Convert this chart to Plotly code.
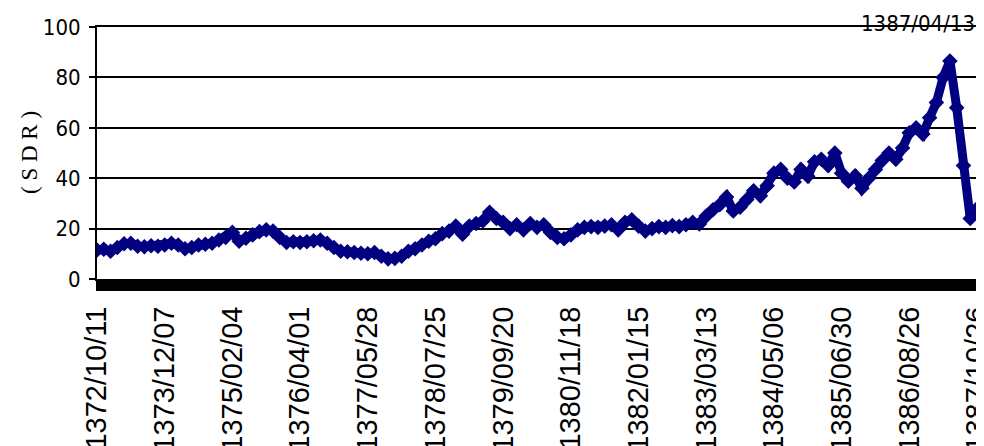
import plotly.graph_objects as go

# tick labels shown on the category axis (every 10th observation)
tick_labels = ["1372/10/11", "1373/12/07", "1375/02/04", "1376/04/01", "1377/05/28",
               "1378/07/25", "1379/09/20", "1380/11/18", "1382/01/15", "1383/03/13",
               "1384/05/06", "1385/06/30", "1386/08/26", "1387/10/26"]

values = [11.5, 11.8, 11.0, 12.5, 14.0, 14.2, 13.0, 12.8, 13.2, 13.0,
          13.5, 14.2, 13.5, 12.0, 12.5, 13.5, 13.8, 14.2, 15.5, 16.5,
          18.5, 15.0, 16.2, 17.5, 18.8, 19.5, 19.0, 16.5, 14.5, 14.8,
          14.5, 14.8, 15.2, 15.5, 14.2, 12.5, 11.0, 10.8, 10.5, 10.2,
          10.0, 10.5, 9.0, 8.0, 8.2, 9.0, 11.0, 12.0, 13.5, 15.0,
          16.0, 18.0, 19.0, 21.0, 17.8, 21.0, 22.0, 23.0, 26.5, 24.0,
          22.5, 20.0, 21.5, 19.5, 22.0, 20.5, 21.5, 18.5, 16.5, 16.0,
          17.5, 19.5, 20.5, 20.8, 20.5, 21.0, 21.5, 19.5, 22.5, 23.5,
          21.0, 19.0, 20.0, 20.8, 20.5, 21.2, 20.8, 21.5, 22.5, 21.8,
          25.0, 27.5, 29.5, 32.5, 27.0, 28.5, 31.5, 35.0, 33.0, 37.0,
          42.0, 43.5, 40.0, 38.5, 43.5, 40.8, 46.5, 47.5, 45.0, 50.0,
          42.0, 38.8, 41.0, 36.0, 40.0, 43.5, 47.0, 50.0, 47.5, 52.0,
          58.0, 60.0, 57.5, 64.0, 70.0, 80.0, 86.5, 68.0, 45.0, 24.0,
          28.0]

peak_label = "1387/04/13"
y_title = "( S D R )"

x_idx = list(range(len(values)))
tick_step = 10
tick_pos = list(range(0, len(values), tick_step))

fig = go.Figure()
fig.add_trace(go.Scatter(
    x=x_idx, y=values, mode="lines+markers",
    line=dict(color="#000080", width=9),
    marker=dict(symbol="diamond", size=12, color="#000080"),
    showlegend=False,
))

narrow = "DejaVu Sans Condensed, Liberation Sans Narrow, Arial Narrow"

# the page body adds an 8px offset, so the figure is sized to fit the window
fig.update_layout(
    width=976, height=438,
    margin=dict(l=89, r=7, t=19, b=167),
    paper_bgcolor="white", plot_bgcolor="white",
    xaxis=dict(
        range=[0, len(values) - 1],
        tickmode="array", tickvals=tick_pos, ticktext=tick_labels,
        tickangle=-90,
        tickfont=dict(family="Liberation Sans, Arial", size=29, color="black"),
        ticks="outside", ticklen=10, tickwidth=2, tickcolor="black",
        minor=dict(ticks="outside", ticklen=10, tickwidth=2, tickcolor="black", dtick=0.25),
        ticklabelstandoff=4,
        ticklabeloverflow="allow",
        showgrid=False, zeroline=False,
        showline=True, linecolor="black", linewidth=2, mirror=True,
        automargin=False,
    ),
    yaxis=dict(
        range=[0, 100], tickvals=[0, 20, 40, 60, 80, 100],
        tickfont=dict(family=narrow, size=22, color="black"),
        ticks="outside", ticklen=6, tickwidth=2, tickcolor="black",
        ticklabelstandoff=4,
        showgrid=True, gridcolor="black", gridwidth=2,
        zeroline=False,
        showline=True, linecolor="black", linewidth=2, mirror=True,
        automargin=False,
    ),
    annotations=[
        dict(
            text=peak_label, xref="paper", yref="paper", x=1.0, y=1.0,
            xanchor="right", yanchor="middle", xshift=0, yshift=4, showarrow=False,
            font=dict(family=narrow, size=22, color="black"),
        ),
        dict(
            text=y_title, xref="paper", yref="paper", x=0, y=0.5,
            xanchor="center", yanchor="middle", xshift=-68, textangle=-90, showarrow=False,
            font=dict(family="Liberation Serif, Times New Roman", size=23, color="black"),
        ),
    ],
)

fig.write_html("out.html")
